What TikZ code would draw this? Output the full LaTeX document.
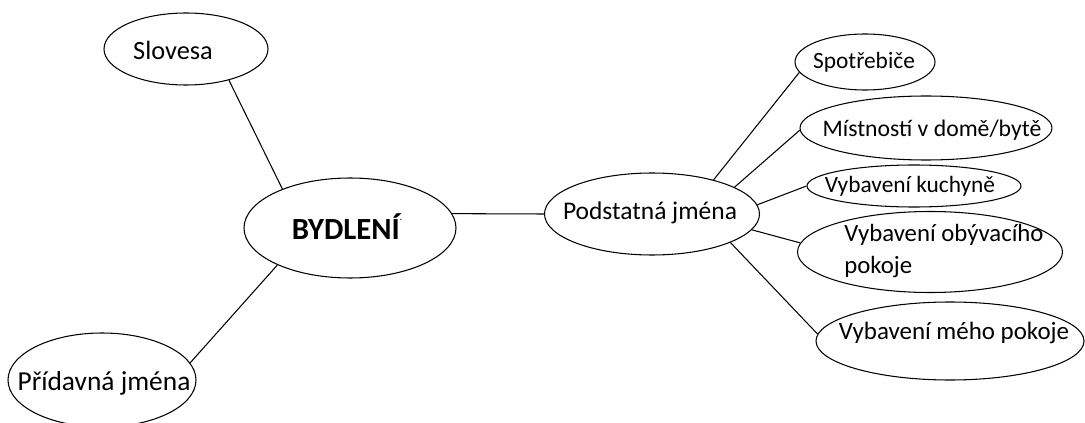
\documentclass[tikz,border=0pt]{standalone}
\usepackage{fontspec}
\setmainfont{Carlito}
\usetikzlibrary{shapes.geometric}

\begin{document}
\begin{tikzpicture}[
  bubble/.style={draw,ellipse,inner sep=0pt,line width=0.6pt},
  word/.style={inner sep=0pt,font=\fontsize{#1}{18.5}\selectfont},
  word/.default=13.5,
  link/.style={line width=0.6pt}]
\useasboundingbox (0,0) rectangle (21.7,-8.46);

% Left side
\node[bubble,minimum width=4.24cm,minimum height=2.0cm] (byd) at (7.0,-4.56) {};
\node[bubble,minimum width=3.28cm,minimum height=1.44cm] (slov) at (3.72,-0.98) {};
\node[bubble,minimum width=3.76cm,minimum height=1.88cm] (prid) at (2.04,-7.6) {};
\node[word=17.5,font=\fontsize{17.5}{20}\selectfont\bfseries] (byd-t) at (6.94,-4.54) {BYDLENÍ\raisebox{1.3ex}{\tiny .}};
\node[word=15] (slov-t) at (3.46,-1.0) {Slovesa};
\node[word=15.6] (prid-t) at (2.08,-7.66) {Přídavná jména};

% Right side
\node[bubble,minimum width=4.3cm,minimum height=1.64cm] (pod) at (13.04,-4.28) {};
\node[bubble,minimum width=2.8cm,minimum height=1.12cm] (spot) at (17.3,-1.24) {};
\node[bubble,minimum width=5.04cm,minimum height=1.28cm] (mist) at (18.52,-2.56) {};
\node[bubble,minimum width=4.28cm,minimum height=0.84cm] (kuch) at (18.28,-3.72) {};
\node[bubble,minimum width=5.3cm,minimum height=1.62cm] (obyv) at (18.6,-5.04) {};
\node[bubble,minimum width=5.36cm,minimum height=1.56cm] (meho) at (19.0,-6.82) {};
\node[word=14.5] (pod-t) at (13.0,-4.26) {Podstatná jména};
\node[word=13.3] (spot-t) at (17.28,-1.24) {Spotřebiče};
\node[word] (mist-t) at (18.64,-2.6) {Místností v domě/bytě};
\node[word=13.3] (kuch-t) at (18.2,-3.72) {Vybavení kuchyně};
\node[word=14.1,align=left] (obyv-t) at (18.88,-5.02) {Vybavení obývacího\\pokoje};
\node[word=14.2] (meho-t) at (19.08,-6.66) {Vybavení mého pokoje};

% Links
\draw[link] (slov.-36) -- (byd.150);
\draw[link] (byd.207) -- (prid.11);
\draw[link] (byd.8) -- (pod.180);
\draw[link] (pod.29) -- (spot.189);
\draw[link] (pod.18) -- (mist.181);
\draw[link] (pod.5) -- (kuch.180);
\draw[link] (pod.-9) -- (obyv.176);
\draw[link] (pod.-20) -- (meho.177);
\end{tikzpicture}
\end{document}
